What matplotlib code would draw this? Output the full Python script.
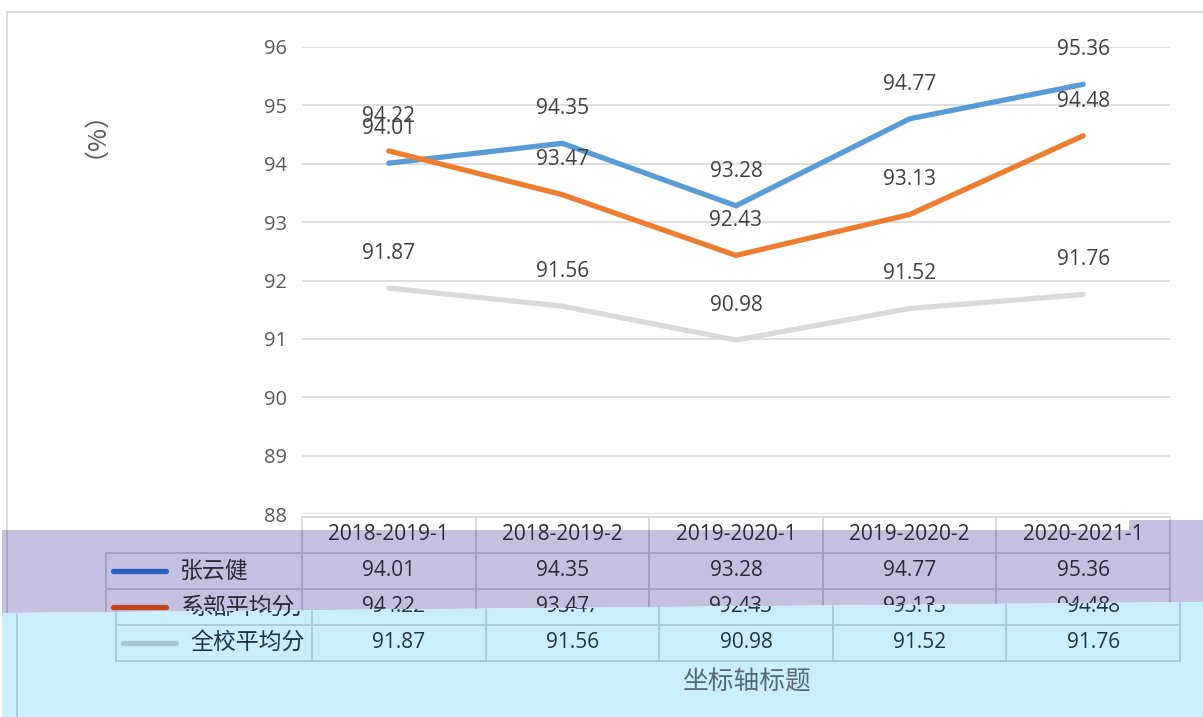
import matplotlib
matplotlib.use("Agg")
import matplotlib.pyplot as plt
from matplotlib.patches import Polygon
from matplotlib.transforms import Bbox

plt.rcParams['font.family'] = ['Open Sans', 'Noto Sans CJK SC', 'DejaVu Sans']

categories = ["2018-2019-1", "2018-2019-2", "2019-2020-1", "2019-2020-2", "2020-2021-1"]
series_names = ["张云健", "系部平均分", "全校平均分"]
zhang = [94.01, 94.35, 93.28, 94.77, 95.36]
dept = [94.22, 93.47, 92.43, 93.13, 94.48]
school = [91.87, 91.56, 90.98, 91.52, 91.76]
series_vals = [zhang, dept, school]
line_colors = ["#5b9bd5", "#ed7d31", "#d9d9d9"]
y_ticks = [88, 89, 90, 91, 92, 93, 94, 95, 96]
y_title = "（%）"
x_title = "坐标轴标题"

W, H = 1203, 717
fig = plt.figure(figsize=(W / 100, H / 100), dpi=100)
fig.patch.set_facecolor("white")

def fx(x):
    return x / W

def fy(y):
    return 1 - y / H

# ---------------- main line chart ----------------
ax = fig.add_axes([fx(302), fy(514), (1170 - 302) / W, (514 - 47) / H])
ax.set_zorder(2)
ax.patch.set_alpha(0)
ax.set_xlim(-0.5, len(categories) - 0.5)
ax.set_ylim(y_ticks[0], y_ticks[-1])
ax.set_yticks(y_ticks)
ax.set_yticklabels([str(t) for t in y_ticks], fontsize=14.5, color="#595959")
ax.set_xticks([])
ax.tick_params(axis="y", length=0, pad=11)
for s in ax.spines.values():
    s.set_visible(False)
ax.grid(axis="y", color="#d9d9d9", lw=1.2)
ax.set_axisbelow(True)

xs = list(range(len(categories)))
for vals, c in zip(series_vals, line_colors):
    ax.plot(xs, vals, color=c, lw=3.8, solid_capstyle="round", solid_joinstyle="miter", zorder=3)
    for i, v in zip(xs, vals):
        ax.annotate(f"{v:.2f}", (i, v), xytext=(0, 25), textcoords="offset points",
                    ha="center", va="center", fontsize=15, color="#404040", zorder=4)

fig.text(fx(82), fy(121), y_title, rotation=90, ha="center", va="center",
         fontsize=18, color="#595959", family=["Noto Sans CJK SC", "DejaVu Sans"])

# column boundaries from the chart's own x scale (display pixels)
xb = [ax.transData.transform((k - 0.5, y_ticks[0]))[0] for k in range(len(categories) + 1)]

# ---------------- overlay (pixel coordinates, y downwards) ----------------
ov = fig.add_axes([0, 0, 1, 1])
ov.set_zorder(3)
ov.set_xlim(0, W)
ov.set_ylim(H, 0)
ov.axis("off")
ov.patch.set_alpha(0)

purple_pts = [(2, 530), (1129, 530), (1129, 520), (1203, 520), (1203, 602), (2, 613)]
blue_pts = [(2, 613), (1203, 602), (1203, 717), (2, 717)]
white_pts = [(0, 0), (1203, 0), (1203, 520), (1129, 520), (1129, 530), (0, 530)]

purple = Polygon(purple_pts, closed=True, facecolor="#c6c0e0", edgecolor="none", zorder=0)
blue = Polygon(blue_pts, closed=True, facecolor="#cbeefc", edgecolor="none", zorder=0)
ov.add_patch(purple)
ov.add_patch(blue)
white_clip = Polygon(white_pts, closed=True, transform=ov.transData)

def boundary(x):
    return 613 + (602 - 613) * (x - 2) / (1203 - 2)

# outer chart border
ov.plot([7, 1203], [12, 12], color="#d9d9d9", lw=1.2, zorder=1)
l = ov.plot([7, 7], [12, 615], color="#d9d9d9", lw=1.2, zorder=1)[0]
l.set_clip_path(white_clip)
l = ov.plot([7, 7], [12, 615], color="#a9a3c2", lw=1.2, zorder=1)[0]
l.set_clip_path(purple)
l = ov.plot([17, 17], [600, 717], color="#a9c6d6", lw=1.2, zorder=1)[0]
l.set_clip_path(blue)

row_tops = [517, 553, 589, 625, 661]

def table_lines(dx, color, clip):
    segs = []
    segs.append(([xb[0] + dx, xb[-1] + dx], [row_tops[0], row_tops[0]]))
    for yv in row_tops[1:]:
        segs.append(([106 + dx, xb[-1] + dx], [yv, yv]))
    segs.append(([106 + dx, 106 + dx], [row_tops[1], row_tops[-1]]))
    for xv in xb:
        segs.append(([xv + dx, xv + dx], [row_tops[0], row_tops[-1]]))
    for xsg, ysg in segs:
        ln = ov.plot(xsg, ysg, color=color, lw=1.3, zorder=2)[0]
        ln.set_clip_path(clip)

def clip_text(t, xc, region):
    yb = boundary(xc)
    if region == "top":
        t.set_clip_box(Bbox([[0, H - yb], [W, H]]))
    else:
        t.set_clip_box(Bbox([[0, 0], [W, H - yb]]))
    t.set_clip_on(True)

def table_texts(dx, text_color, key_colors, region, rows):
    if region == "top":
        for k, cat in enumerate(categories):
            xc = (xb[k] + xb[k + 1]) / 2 + dx
            t = ov.text(xc, (row_tops[0] + row_tops[1]) / 2, cat, ha="center", va="center",
                        fontsize=15, color=text_color, zorder=4)
            clip_text(t, xc, region)
    for r in rows:
        yc = (row_tops[r + 1] + row_tops[r + 2]) / 2
        kl = ov.plot([113 + dx, 166 + dx], [yc, yc], color=key_colors[r], lw=3.8,
                     solid_capstyle="round", zorder=3)[0]
        kl.set_clip_path(purple if region == "top" else blue)
        t = ov.text(180 + dx, yc, series_names[r], ha="left", va="center", fontsize=16.5,
                    color=text_color, family=["Noto Sans CJK SC", "DejaVu Sans"], zorder=4)
        clip_text(t, 240 + dx, region)
        for k, v in enumerate(series_vals[r]):
            xc = (xb[k] + xb[k + 1]) / 2 + dx
            t = ov.text(xc, yc, f"{v:.2f}", ha="center", va="center", fontsize=15,
                        color=text_color, zorder=4)
            clip_text(t, xc, region)

# table seen in the white / purple part
table_lines(0, "#d9d9d9", white_clip)
table_lines(0, "#a29cbd", purple)
table_texts(0, "#2a2a36", ["#2b60c2", "#c2461c", "#a9c6d8"], "top", [0, 1])

# table seen in the light blue part (shifted)
table_lines(10, "#a6c8d8", blue)
table_texts(10, "#1f3542", ["#2b60c2", "#c2461c", "#a9c6d8"], "bottom", [1, 2])

ov.text(746, 682, x_title, ha="center", va="center", fontsize=18.5, color="#5a6a74",
        family=["Noto Sans CJK SC", "DejaVu Sans"], zorder=4)

fig.savefig("out.png", dpi=100)
